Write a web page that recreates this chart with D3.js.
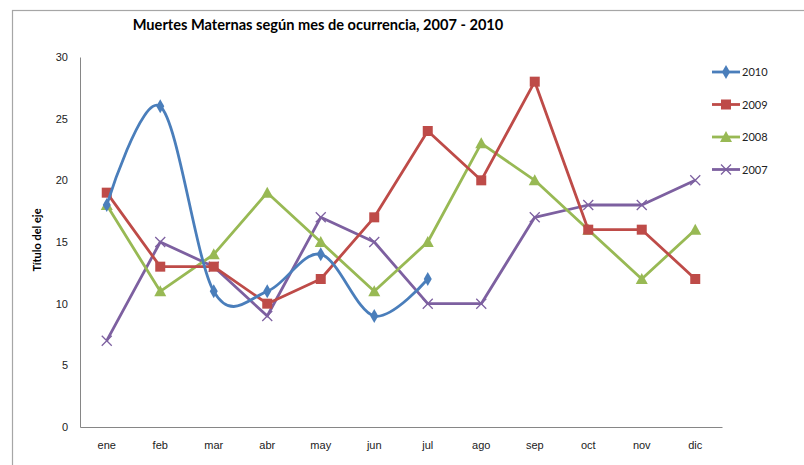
<!DOCTYPE html>
<html>
<head>
<meta charset="utf-8">
<script src="https://cdn.jsdelivr.net/npm/d3@7"></script>
<style>
  body { margin: 0; background: #fff; }
  svg { display: block; font-family: Lato, "Open Sans", sans-serif; }
</style>
</head>
<body>
<svg id="chart" width="804" height="465"></svg>
<script>
const months = ['ene', 'feb', 'mar', 'abr', 'may', 'jun', 'jul', 'ago', 'sep', 'oct', 'nov', 'dic'];
const yTicks = [0, 5, 10, 15, 20, 25, 30];

const v2010 = [18, 26, 11, 11, 14, 9, 12];
const v2009 = [19, 13, 13, 10, 12, 17, 24, 20, 28, 16, 16, 12];
const v2008 = [18, 11, 14, 19, 15, 11, 15, 23, 20, 16, 12, 16];
const v2007 = [7, 15, 13, 9, 17, 15, 10, 10, 17, 18, 18, 20];

const series = [
  { name: '2010', values: v2010, color: '#4a7ebb', marker: 'diamond', smooth: true },
  { name: '2009', values: v2009, color: '#be4b48', marker: 'square' },
  { name: '2008', values: v2008, color: '#98b954', marker: 'triangle' },
  { name: '2007', values: v2007, color: '#7d60a0', marker: 'cross' }
];

const svg = d3.select('#chart');
const plot = { left: 80, right: 722, top: 57, bottom: 427 };

// outer chart frame (runs off the right and bottom edge in the original)
svg.append('rect')
  .attr('x', 12.5).attr('y', 10.5)
  .attr('width', 820).attr('height', 480)
  .attr('fill', 'none').attr('stroke', '#a6a6a6').attr('stroke-width', 1.2);

const x = d3.scaleBand().domain(months).range([plot.left, plot.right]);
const y = d3.scaleLinear().domain([0, 30]).range([plot.bottom, plot.top]);
const cx = m => x(m) + x.bandwidth() / 2;

// axes
const yAxis = svg.append('g')
  .attr('transform', `translate(${plot.left},0)`)
  .call(d3.axisLeft(y).tickValues(yTicks).tickSize(0).tickPadding(12));
yAxis.select('.domain').attr('stroke', '#868686');
yAxis.selectAll('text').attr('font-size', 11).attr('fill', '#222');

const xAxis = svg.append('g')
  .attr('transform', `translate(0,${plot.bottom})`)
  .call(d3.axisBottom(x).tickSize(0).tickPadding(14));
xAxis.select('.domain').attr('stroke', '#868686');
xAxis.selectAll('text').attr('font-size', 11).attr('fill', '#222');

// titles
svg.append('text')
  .attr('x', 318).attr('y', 30)
  .attr('text-anchor', 'middle')
  .attr('font-size', 14.6).attr('font-weight', 'bold')
  .text('Muertes Maternas según mes de ocurrencia, 2007 - 2010');

svg.append('text')
  .attr('transform', 'translate(41,240) rotate(-90)')
  .attr('text-anchor', 'middle')
  .attr('font-size', 11).attr('font-weight', 'bold')
  .text('Título del eje');

function drawMarker(g, type, color) {
  if (type === 'diamond') {
    g.append('path').attr('d', d3.symbol(d3.symbolDiamond, 56)()).attr('fill', color);
  } else if (type === 'square') {
    g.append('rect').attr('x', -5).attr('y', -5).attr('width', 10).attr('height', 10).attr('fill', color);
  } else if (type === 'triangle') {
    g.append('path').attr('d', 'M0,-6L6,5L-6,5Z').attr('fill', color);
  } else {
    g.append('path').attr('d', 'M-5,-5L5,5M-5,5L5,-5')
      .attr('stroke', color).attr('stroke-width', 1.3).attr('fill', 'none');
  }
}

// draw back to front so 2010 ends up on top
series.slice().reverse().forEach(s => {
  const pts = s.values.map((v, i) => [cx(months[i]), y(v)]);
  const line = d3.line().curve(s.smooth ? d3.curveCatmullRom.alpha(0) : d3.curveLinear);
  svg.append('path')
    .attr('d', line(pts))
    .attr('fill', 'none')
    .attr('stroke', s.color)
    .attr('stroke-width', 2.8)
    .attr('stroke-linejoin', 'round');
  pts.forEach(p => {
    drawMarker(svg.append('g').attr('transform', `translate(${p[0]},${p[1]})`), s.marker, s.color);
  });
});

// legend
const legend = svg.append('g');
series.forEach((s, i) => {
  const ly = 72 + i * 32.5;
  legend.append('line')
    .attr('x1', 712).attr('x2', 740).attr('y1', ly).attr('y2', ly)
    .attr('stroke', s.color).attr('stroke-width', 2.8);
  drawMarker(legend.append('g').attr('transform', `translate(726,${ly})`), s.marker, s.color);
  legend.append('text')
    .attr('x', 742).attr('y', ly + 4)
    .attr('font-size', 11).attr('fill', '#222')
    .text(s.name);
});
</script>
</body>
</html>
